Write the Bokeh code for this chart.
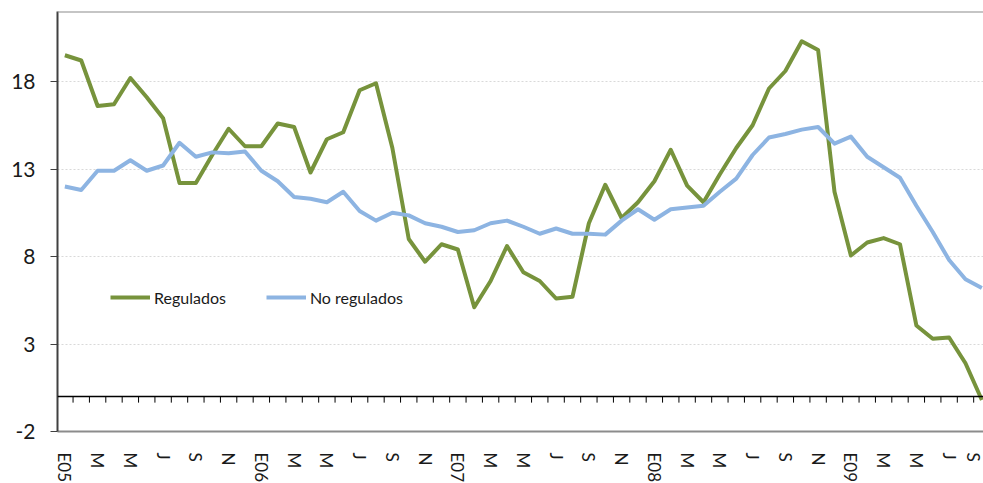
from bokeh.plotting import figure
from bokeh.models import FixedTicker, Span, Legend, LegendItem, Range1d, ColumnDataSource
from bokeh.embed import file_html
from bokeh.resources import INLINE

# Monthly data, January 2005 (E05) to September 2009
tick_labels = ["E05", "M", "M", "J", "S", "N",
               "E06", "M", "M", "J", "S", "N",
               "E07", "M", "M", "J", "S", "N",
               "E08", "M", "M", "J", "S", "N",
               "E09", "M", "M", "J", "S"]

regulados = [19.5, 19.2, 16.6, 16.7, 18.2, 17.1, 15.9, 12.2, 12.2, 13.8, 15.3, 14.3,
             14.3, 15.6, 15.4, 12.8, 14.7, 15.1, 17.5, 17.9, 14.2, 9.0, 7.7, 8.7,
             8.4, 5.1, 6.6, 8.6, 7.1, 6.6, 5.6, 5.7, 9.9, 12.1, 10.2, 11.1,
             12.3, 14.1, 12.05, 11.1, 12.7, 14.2, 15.5, 17.6, 18.6, 20.3, 19.8, 11.7,
             8.06, 8.8, 9.05, 8.7, 4.06, 3.3, 3.37, 1.9, -0.2]

no_regulados = [12.0, 11.8, 12.9, 12.9, 13.5, 12.9, 13.2, 14.5, 13.7, 13.95, 13.9, 14.0,
                12.9, 12.3, 11.4, 11.3, 11.1, 11.7, 10.6, 10.05, 10.5, 10.35, 9.9, 9.7,
                9.4, 9.5, 9.9, 10.05, 9.7, 9.3, 9.6, 9.3, 9.3, 9.25, 10.05, 10.7,
                10.1, 10.7, 10.8, 10.9, 11.7, 12.45, 13.8, 14.8, 15.0, 15.25, 15.4, 14.45,
                14.85, 13.7, 13.1, 12.5, 10.9, 9.4, 7.8, 6.7, 6.2]

y_ticks = [-2, 3, 8, 13, 18]
y_tick_labels = ["-2", "3", "8", "13", "18"]

GREEN = "#77933C"
BLUE = "#8DB4E2"
FONT = "Lato"

n = len(regulados)
x = list(range(n))
src = ColumnDataSource(dict(x=x, reg=regulados, noreg=no_regulados))

p = figure(frame_width=926, frame_height=420,
           min_border_left=57, min_border_right=0, min_border_top=11, min_border_bottom=52,
           x_range=Range1d(-0.45, 56.1), y_range=Range1d(-2, 22),
           output_backend="svg", toolbar_location=None)
p.outline_line_color = None
p.background_fill_color = "white"
p.border_fill_color = "white"

# x axis (labels at bottom of plot area)
label_pos = list(range(0, n, 2))
p.xaxis.ticker = FixedTicker(ticks=label_pos)
p.xaxis.major_label_overrides = {pos: lab for pos, lab in zip(label_pos, tick_labels)}
p.xaxis.major_label_orientation = "vertical"
p.xaxis.major_tick_line_color = None
p.xaxis.minor_tick_line_color = None
p.xaxis.major_tick_in = 0
p.xaxis.major_tick_out = 0
p.xaxis.axis_line_color = "#8c8c8c"
p.xaxis.axis_line_width = 2
p.xaxis.major_label_standoff = 21
p.xaxis.major_label_text_font = FONT
p.xaxis.major_label_text_font_size = "17px"
p.xaxis.major_label_text_color = "#1a1a1a"
p.xgrid.grid_line_color = None

# y axis
p.yaxis.ticker = FixedTicker(ticks=y_ticks)
p.yaxis.major_label_overrides = {t: s for t, s in zip(y_ticks, y_tick_labels)}
p.yaxis.minor_tick_line_color = None
p.yaxis.major_tick_in = 0
p.yaxis.major_tick_out = 7
p.yaxis.major_tick_line_color = "#404040"
p.yaxis.axis_line_color = "#404040"
p.yaxis.axis_line_width = 2
p.yaxis.major_label_standoff = 15
p.yaxis.major_label_text_font = FONT
p.yaxis.major_label_text_font_size = "21px"
p.yaxis.major_label_text_color = "#1a1a1a"
p.ygrid.grid_line_color = "#d9d9d9"
p.ygrid.grid_line_dash = "2 2"
p.ygrid.grid_line_width = 1

# top border
p.add_layout(Span(location=p.y_range.end, dimension="width", line_color="#8c8c8c", line_width=2))

# zero line with category tick marks
p.add_layout(Span(location=0, dimension="width", line_color="#000000", line_width=1.5))
bounds = [i - 0.5 for i in range(n + 1)]
p.segment(x0=bounds, y0=[0] * len(bounds), x1=bounds, y1=[-0.35] * len(bounds),
          line_color="#000000", line_width=1)

r1 = p.line("x", "reg", source=src, line_color=GREEN, line_width=4, line_join="round")
r2 = p.line("x", "noreg", source=src, line_color=BLUE, line_width=4, line_join="round")

legend = Legend(items=[LegendItem(label="Regulados", renderers=[r1]),
                       LegendItem(label="No regulados", renderers=[r2])],
                orientation="horizontal", location=(53, 124),
                glyph_width=40, glyph_height=20, label_height=20, label_standoff=4,
                spacing=40, padding=0, margin=0,
                border_line_color=None, background_fill_alpha=0,
                label_text_font=FONT, label_text_font_size="16px", label_text_color="#1a1a1a")
p.add_layout(legend)

open("out.html", "w").write(file_html(p, INLINE))
